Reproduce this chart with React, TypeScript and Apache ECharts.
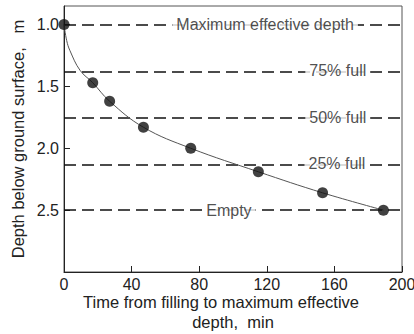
import React, { useEffect, useRef } from "react";
import * as echarts from "echarts";

// Measured points: time (min), depth (m)
const timeMin = [0, 17, 27, 47, 75, 115, 153, 189];
const depthM = [1.0, 1.47, 1.62, 1.83, 2.0, 2.19, 2.36, 2.5];

// Fitted curve
const curveTime = [0, 1.6, 3.5, 9.5, 17, 27, 47, 75, 115, 153, 189];
const curveDepth = [1.0, 1.13, 1.21, 1.37, 1.47, 1.62, 1.83, 2.0, 2.19, 2.36, 2.5];

// Reference levels
const levelNames = ["Maximum effective depth", "75% full", "50% full", "25% full", "Empty"];
const levelDepths = [1.0, 1.375, 1.75, 2.125, 2.5];
const levelLabelTime = [119, 162, 162, 161.5, 97.6];

const yTicks = [1.0, 1.5, 2.0, 2.5];
const xTicks = [0, 40, 80, 120, 160, 200];

const FONT = "'Liberation Sans', Arial, Helvetica, sans-serif";

export default function App() {
  const ref = useRef<HTMLDivElement>(null);
  useEffect(() => {
    if (!ref.current) return;
    const chart = echarts.init(ref.current, undefined, { renderer: "svg" });
    chart.setOption({
      animation: false,
      textStyle: { fontFamily: FONT, color: "#222" },
      grid: {
        left: 64,
        top: 6,
        right: 12,
        bottom: 62,
        containLabel: false,
        outerBoundsMode: "none",
        show: true,
        borderColor: "#555",
        borderWidth: 1,
      },
      xAxis: {
        type: "value",
        min: xTicks[0],
        max: xTicks[xTicks.length - 1],
        interval: 40,
        axisLine: { show: true, onZero: false, lineStyle: { color: "#222", width: 1 } },
        axisTick: { show: true, inside: true, length: 6, lineStyle: { color: "#222" } },
        splitLine: { show: false },
        axisLabel: { fontSize: 16, color: "#222", margin: 4, fontFamily: FONT },
        name: "{a|Time from filling to maximum effective}\n{b|depth,  min}",
        nameLocation: "middle",
        nameGap: 20,
        nameMoveOverlap: false,
        nameTextStyle: {
          fontSize: 16.5,
          color: "#222",
          fontFamily: FONT,
          lineHeight: 20,
          verticalAlign: "top",
          rich: {
            a: { fontSize: 16.5, fontFamily: FONT, color: "#222", padding: [0, 24, 0, 0], lineHeight: 20 },
            b: { fontSize: 16.5, fontFamily: FONT, color: "#222", lineHeight: 20 },
          },
        },
      },
      yAxis: {
        type: "value",
        inverse: true,
        min: 0.85,
        max: 3.0,
        axisLine: { show: true, onZero: false, lineStyle: { color: "#222", width: 1 } },
        axisTick: {
          show: true,
          inside: true,
          length: 6,
          customValues: yTicks,
          lineStyle: { color: "#222" },
        },
        splitLine: { show: false },
        axisLabel: {
          fontSize: 16,
          color: "#222",
          margin: 5,
          fontFamily: FONT,
          customValues: yTicks,
          formatter: (v: number) => v.toFixed(1),
        },
        name: "Depth below ground surface,   m",
        nameLocation: "middle",
        nameGap: 38,
        nameMoveOverlap: false,
        nameTextStyle: { fontSize: 16.5, color: "#222", fontFamily: FONT },
      },
      series: [
        {
          type: "line",
          name: "levelLines",
          data: [],
          z: 1,
          markLine: {
            silent: true,
            z: 1,
            symbol: ["none", "none"],
            label: { show: false },
            lineStyle: { color: "#111", width: 1.6, type: [12, 6] },
            data: levelDepths.map((d) => ({ yAxis: d })),
          },
        },
        {
          type: "line",
          name: "curve",
          data: curveTime.map((t, i) => [t, curveDepth[i]]),
          smooth: 0.4,
          showSymbol: false,
          symbol: "none",
          lineStyle: { color: "#555", width: 1 },
          z: 2,
        },
        {
          type: "scatter",
          name: "levels",
          data: levelNames.map((n, i) => ({ name: n, value: [levelLabelTime[i], levelDepths[i]] })),
          symbolSize: 1,
          itemStyle: { color: "rgba(0,0,0,0)" },
          z: 10,
          label: {
            show: true,
            position: "inside",
            formatter: "{b}",
            fontSize: 16,
            fontFamily: FONT,
            color: "#222",
            backgroundColor: "#fff",
            padding: [1, 4, 1, 4],
          },
        },
        {
          type: "scatter",
          name: "measured",
          data: timeMin.map((t, i) => [t, depthM[i]]),
          symbol: "circle",
          symbolSize: 11,
          clip: false,
          itemStyle: { color: "#111" },
          z: 11,
        },
      ],
    });
    return () => chart.dispose();
  }, []);
  return <div ref={ref} style={{ width: 414, height: 334, position: "absolute", left: 0, top: 0 }} />;
}
